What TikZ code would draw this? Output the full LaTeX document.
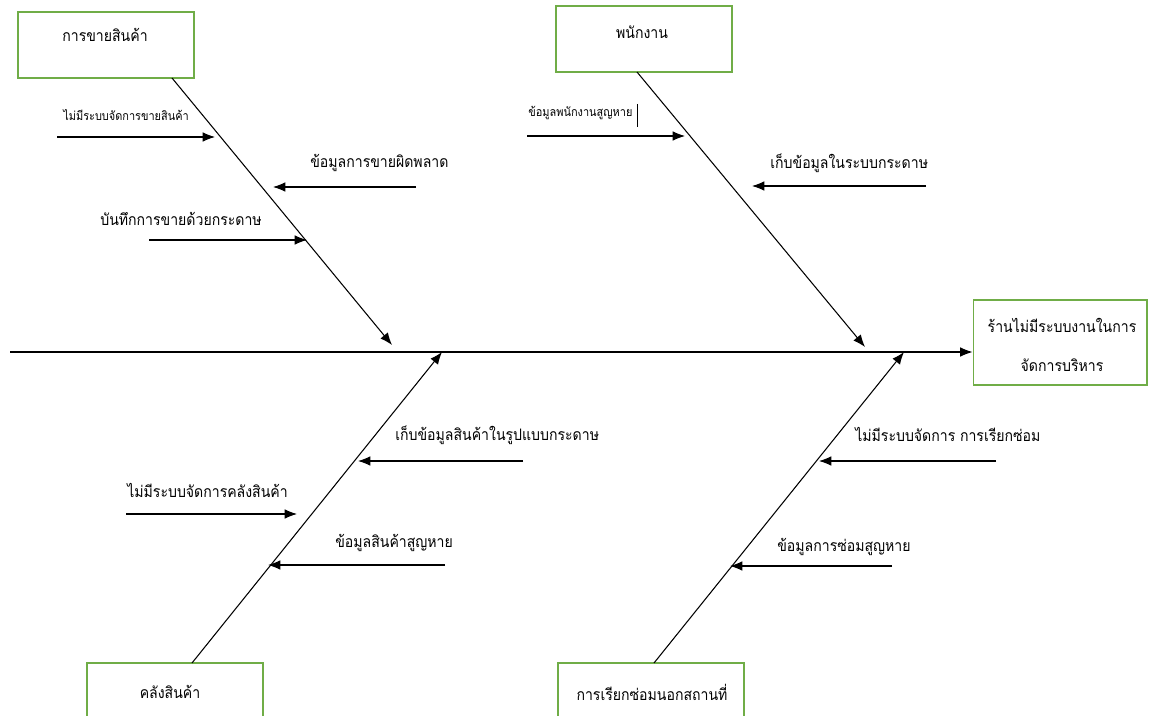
\documentclass[tikz,border=0pt]{standalone}
\usepackage{fontspec}
\newfontfamily\thaifont[Script=Thai, FakeStretch=0.89]{Loma}
\usetikzlibrary{arrows.meta}
\definecolor{boxgreen}{RGB}{112,173,71}
\tikzset{
  catbox/.style={draw=boxgreen, line width=0.6pt, inner sep=0pt},
  bone/.style={line width=0.6pt, -{Latex[length=7pt,width=5.5pt]}},
  twig/.style={line width=0.6pt, -{Latex[length=7pt,width=5.5pt]}},
  lbl/.style={font=\thaifont\fontsize{9}{11}\selectfont, inner sep=0pt, anchor=west},
  smalllbl/.style={font=\thaifont\fontsize{7}{8}\selectfont, inner sep=0pt, anchor=west},
  headlbl/.style={font=\thaifont\fontsize{9}{11}\selectfont, inner sep=0pt}
}
\begin{document}
\begin{tikzpicture}[x=0.02cm,y=-0.02cm]
\useasboundingbox (0,0) rectangle (1149,716);
% boxes
\node[catbox, minimum width=3.52cm, minimum height=1.32cm] (sales) at (106,45) {};
\node[catbox, minimum width=3.52cm, minimum height=1.32cm] (staff) at (644,39) {};
\node[catbox, minimum width=3.48cm, minimum height=1.70cm] (effect) at (1060,342.5) {};
\node[catbox, minimum width=3.52cm, minimum height=1.44cm] (stock) at (175,699) {};
\node[catbox, minimum width=3.72cm, minimum height=1.44cm] (repair) at (651,699) {};
\node[headlbl] (salest) at (105,35) {การขายสินค้า};
\node[headlbl] (stafft) at (642,32) {พนักงาน};
\node[headlbl] (effectt1) at (1062,325) {ร้านไม่มีระบบงานในการ};
\node[headlbl] (effectt2) at (1062,365) {จัดการบริหาร};
\node[headlbl] (stockt) at (170,692) {คลังสินค้า};
\node[headlbl] (repairt) at (652,692) {การเรียกซ่อมนอกสถานที่};
% spine
\coordinate (tail) at (10,352);
\draw[bone] (tail) -- (effect.west |- tail);
% bones
\coordinate (b1s) at (172,78);  \coordinate (b1e) at (392,345);
\coordinate (b2s) at (637,72);  \coordinate (b2e) at (865,347);
\coordinate (b3s) at (192,663); \coordinate (b3e) at (442,352);
\coordinate (b4s) at (654,663); \coordinate (b4e) at (904,352);
\draw[bone] (b1s) -- (b1e);
\draw[bone] (b2s) -- (b2e);
\draw[bone] (b3s) -- (b3e);
\draw[bone] (b4s) -- (b4e);
% causes: sales
\node[smalllbl] (c1) at (63,115) {ไม่มีระบบจัดการขายสินค้า};
\coordinate (c1a) at (57,137);  \coordinate (c1b) at (215,137);
\draw[twig] (c1a) -- (c1b);
\node[lbl] (c2) at (310,163) {ข้อมูลการขายผิดพลาด};
\coordinate (c2a) at (416,187); \coordinate (c2b) at (273,187);
\draw[twig] (c2a) -- (c2b);
\node[lbl] (c3) at (100,219) {บันทึกการขายด้วยกระดาษ};
\coordinate (c3a) at (149,240); \coordinate (c3b) at (307,240);
\draw[twig] (c3a) -- (c3b);
% causes: staff
\node[smalllbl] (c4) at (528,113) {ข้อมูลพนักงานสูญหาย};
\draw[line width=0.5pt] (637,104) -- (637,127);
\coordinate (c4a) at (527,136); \coordinate (c4b) at (685,136);
\draw[twig] (c4a) -- (c4b);
\node[lbl] (c5) at (770,163) {เก็บข้อมูลในระบบกระดาษ};
\coordinate (c5a) at (926,186); \coordinate (c5b) at (752,186);
\draw[twig] (c5a) -- (c5b);
% causes: stock
\node[lbl] (c6) at (395,435) {เก็บข้อมูลสินค้าในรูปแบบกระดาษ};
\coordinate (c6a) at (523,461); \coordinate (c6b) at (358,461);
\draw[twig] (c6a) -- (c6b);
\node[lbl] (c7) at (127,490) {ไม่มีระบบจัดการคลังสินค้า};
\coordinate (c7a) at (126,514); \coordinate (c7b) at (297,514);
\draw[twig] (c7a) -- (c7b);
\node[lbl] (c8) at (335,543) {ข้อมูลสินค้าสูญหาย};
\coordinate (c8a) at (445,565); \coordinate (c8b) at (268,565);
\draw[twig] (c8a) -- (c8b);
% causes: repair
\node[lbl] (c9) at (855,434) {ไม่มีระบบจัดการ การเรียกซ่อม};
\coordinate (c9a) at (996,461); \coordinate (c9b) at (819,461);
\draw[twig] (c9a) -- (c9b);
\node[lbl] (c10) at (777,547) {ข้อมูลการซ่อมสูญหาย};
\coordinate (c10a) at (892,566); \coordinate (c10b) at (730,566);
\draw[twig] (c10a) -- (c10b);
\end{tikzpicture}
\end{document}
